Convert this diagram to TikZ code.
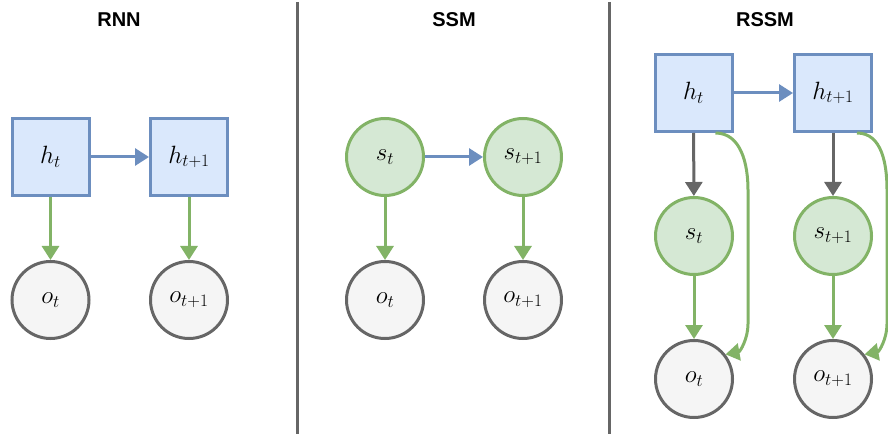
\RequirePackage{fix-cm}
\documentclass[tikz,border=0pt]{standalone}
\usepackage{fontspec}
\newfontfamily\headfont{Liberation Sans}
\usetikzlibrary{arrows.meta}

\definecolor{blueline}{HTML}{6C8EBF}
\definecolor{bluefill}{HTML}{DAE8FC}
\definecolor{greenline}{HTML}{82B366}
\definecolor{greenfill}{HTML}{D5E8D4}
\definecolor{greyline}{HTML}{666666}
\definecolor{greyfill}{HTML}{F5F5F5}

\tikzset{
  every node/.style={inner sep=0pt},
  deterministic/.style={draw=blueline, fill=bluefill, line width=3pt,
    rectangle, minimum size=77pt, font=\fontsize{25}{30}\selectfont},
  latent/.style={draw=greenline, fill=greenfill, line width=3pt,
    circle, minimum size=77pt, font=\fontsize{25}{30}\selectfont},
  observed/.style={draw=greyline, fill=greyfill, line width=3pt,
    circle, minimum size=77pt, font=\fontsize{25}{30}\selectfont},
  paneltitle/.style={font=\headfont\bfseries\fontsize{20}{23}\selectfont},
  divider/.style={draw=greyline, line width=3pt},
  edge/.style={line width=3pt, -{Triangle[length=14pt,width=17pt]}},
  recur/.style={edge, draw=blueline},
  emit/.style={edge, draw=greenline},
  prior/.style={edge, draw=greyline},
}

\begin{document}
\begin{tikzpicture}[x=1pt,y=1pt]
  \useasboundingbox (0,0) rectangle (888,434);

  % panel separators
  \coordinate (d1top) at (297,432);
  \coordinate (d1bot) at (297,0);
  \coordinate (d2top) at (609,432);
  \coordinate (d2bot) at (609,0);
  \draw[divider] (d1top) -- (d1bot);
  \draw[divider] (d2top) -- (d2bot);

  % titles
  \node[paneltitle] (tRNN)  at (119,414) {RNN};
  \node[paneltitle] (tSSM)  at (454,414) {SSM};
  \node[paneltitle] (tRSSM) at (765,414) {RSSM};

  % RNN
  \node[deterministic] (rh0) at (50.5,277) {$h_t$};
  \node[deterministic] (rh1) at (189,277)  {$h_{t+1}$};
  \node[observed]      (ro0) at (50.5,134) {$o_t$};
  \node[observed]      (ro1) at (189,134)  {$o_{t+1}$};
  \draw[recur] (rh0) -- (rh1);
  \draw[emit]  (rh0) -- (ro0);
  \draw[emit]  (rh1) -- (ro1);

  % SSM
  \node[latent]   (ss0) at (385,277) {$s_t$};
  \node[latent]   (ss1) at (523,277) {$s_{t+1}$};
  \node[observed] (so0) at (385,134) {$o_t$};
  \node[observed] (so1) at (523,134) {$o_{t+1}$};
  \draw[recur] (ss0) -- (ss1);
  \draw[emit]  (ss0) -- (so0);
  \draw[emit]  (ss1) -- (so1);

  % RSSM
  \node[deterministic] (qh0) at (693.5,341) {$h_t$};
  \node[deterministic] (qh1) at (833,341)   {$h_{t+1}$};
  \node[latent]        (qs0) at (694,198)   {$s_t$};
  \node[latent]        (qs1) at (833,198)   {$s_{t+1}$};
  \node[observed]      (qo0) at (694,55)    {$o_t$};
  \node[observed]      (qo1) at (833,55)    {$o_{t+1}$};
  \draw[recur] (qh0) -- (qh1);
  \draw[prior] (qh0) -- (qs0);
  \draw[prior] (qh1) -- (qs1);
  \draw[emit]  (qs0) -- (qo0);
  \draw[emit]  (qs1) -- (qo1);

  % skip connections from h to o
  \coordinate (k0a) at (748,244);
  \coordinate (k0b) at (748,110);
  \coordinate (k1a) at (887,244);
  \coordinate (k1b) at (887,110);
  \draw[emit] ([xshift=-18pt]qh0.south east) to[out=0,in=90] (k0a) -- (k0b)
              to[out=-90,in=10] (qo0.38);
  \draw[emit] ([xshift=-16pt]qh1.south east) to[out=0,in=90] (k1a) -- (k1b)
              to[out=-90,in=10] (qo1.38);
\end{tikzpicture}
\end{document}
